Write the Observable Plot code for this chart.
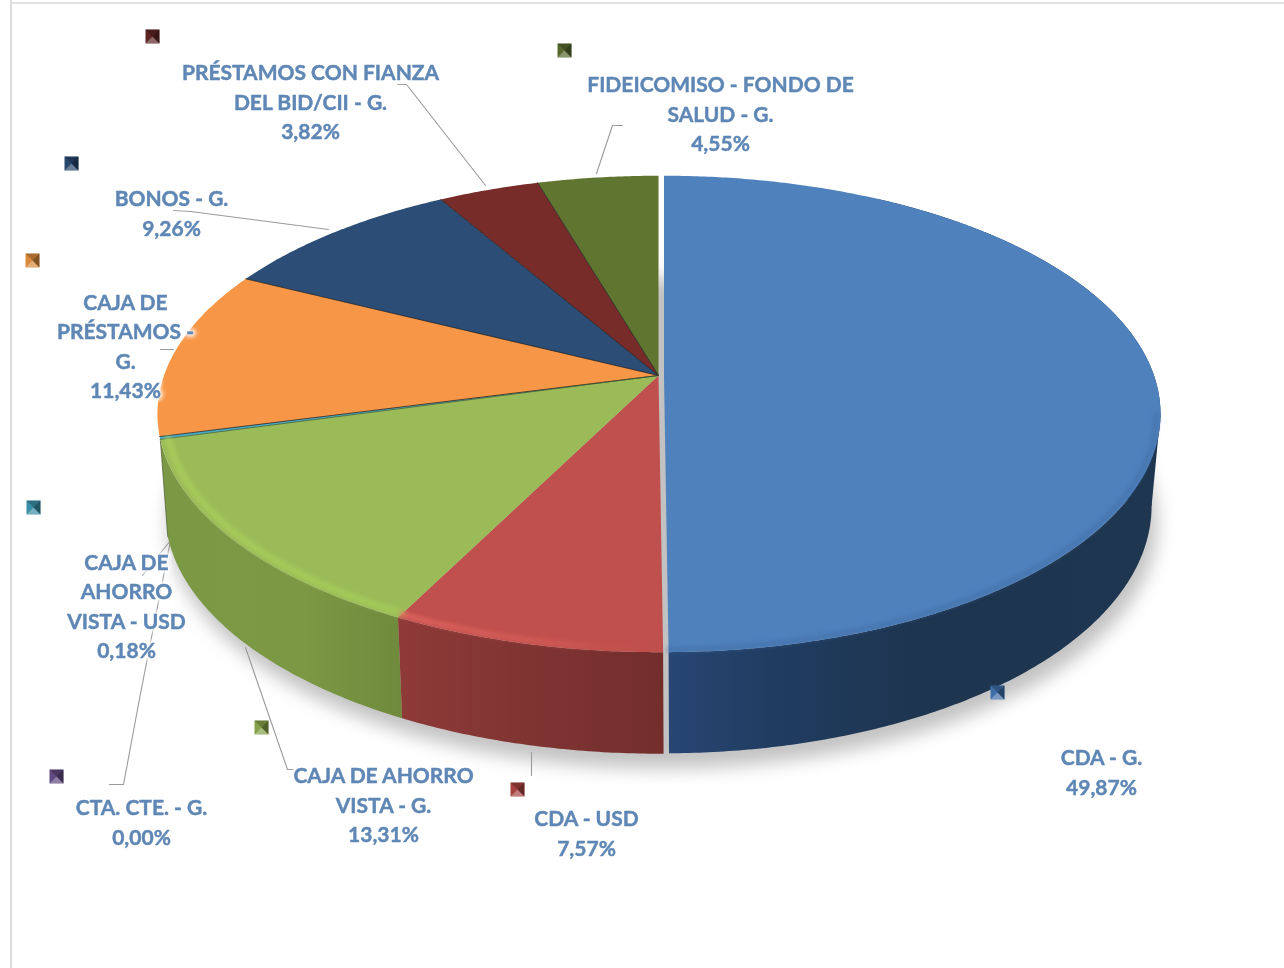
<!DOCTYPE html>
<html>
<head>
<meta charset="utf-8">
<style>html,body{margin:0;padding:0;background:#fff}svg{display:block}</style>
<script src="https://cdn.jsdelivr.net/npm/d3@7"></script>
<script src="https://cdn.jsdelivr.net/npm/@observablehq/plot@0.6"></script>
</head>
<body>
<div id="chart"></div>
<script>
// ---- data ----
const categories = [
  "CDA - G.", "CDA - USD", "CAJA DE AHORRO\nVISTA - G.", "CTA. CTE. - G.",
  "CAJA DE\nAHORRO\nVISTA - USD", "CAJA DE\nPRÉSTAMOS -\nG.", "BONOS - G.",
  "PRÉSTAMOS CON FIANZA\nDEL BID/CII - G.", "FIDEICOMISO - FONDO DE\nSALUD - G."
];
const shares = [49.87, 7.57, 13.31, 0.00, 0.18, 11.43, 9.26, 3.82, 4.55];

// ---- styling ----
const faceColors = ["#4f81bd","#c0504d","#9bbb59","#8064a2","#4bacc6","#f79646","#2c4d75","#772c2a","#5f7530"];
const keyColors  = ["#3f6ea8","#a5413f","#84a048","#604a80","#3a8ea6","#d98a3a","#27466c","#5e2424","#56682f"];
const textColor = "#5f87b5";

// annotation placement, in picture pixels (the picture's own hand-placed labels)
const labelSpots = [[1101,770],[586,831],[383,803],[141,820],[126,604],[125,344],[171,211],[310,100],[720,112]];
const keySpots   = [[997,692],[517,789],[261,727],[56,776],[33,507],[32,260],[71,163],[152,36],[564,50]];
const leaders = [
  [[531,752],[531,775]],
  [[245,647],[287,769],[293,769]],
  [[170,540],[140,693],[123,784],[109,784]],
  [[170,540],[142,575]],
  [[160,349],[173,349]],
  [[173,210],[190,211],[328,229]],
  [[397,84],[406,84],[485,185]],
  [[622,125],[612,125],[596,173]]
];

// ---- tilted-disc projection (perspective of the 3D pie) ----
const pers = 0.1614, radY = 232, hubY = 375;
const rest   = {cx: 658,   A: 494.5, cxb: 658.5, xf: 0.986, yf: 1.02,  yb: 471};
const lifted = {cx: 663.5, A: 490,   cxb: 664,   xf: 0.981, yf: 1.038, yb: 465.6};
const shade  = {cx: 662,   A: 492,   cxb: 662,   xf: 0.992, yf: 1.03,  yb: 476};

const total = d3.sum(shares);
const cum = d3.cumsum(shares);
const turn = i => (i < 0 ? 0 : cum[i] / total * 360);
const rad = d => d * Math.PI / 180;
function topPt(t, g, k = 1) {
  const u = Math.sin(rad(t)) * k, v = -Math.cos(rad(t)) * k, s = 1 / (1 - pers * v);
  return {x: g.cx + g.A * u * s, y: hubY + radY * v * s};
}
function botPt(t, g) {
  const u = Math.sin(rad(t)), v = -Math.cos(rad(t)), s = 1 / (1 - pers * v);
  return {x: g.cxb + g.xf * g.A * u * s, y: g.yb + g.yf * radY * v * s};
}
const sweep = (a, b) => { const n = Math.max(2, Math.ceil((b - a) / 0.5)); return d3.range(n + 1).map(i => a + (b - a) * i / n); };
const groupOf = i => (i === 0 ? lifted : rest);
const hubPt = g => ({x: g.cx, y: hubY});
const face = i => { const g = groupOf(i); return [hubPt(g), ...sweep(turn(i - 1), turn(i)).map(t => topPt(t, g))]; };
const wall = (a, b, g) => [...sweep(a, b).map(t => topPt(t, g)), ...sweep(a, b).reverse().map(t => botPt(t, g))];
const widest = Math.acos(-pers) * 180 / Math.PI; // where the disc's outline is at its widest

const poly = (pts, o) => Plot.line(pts, {x: "x", y: "y", stroke: "none", ...o});
const rimArc = (a, b, g, o, k = 1) => Plot.line(sweep(a, b).map(t => topPt(t, g, k)), {x: "x", y: "y", fill: "none", ...o});

const defs = () => {
  const d = d3.create("svg:defs");
  const grad = (id, stops) =>
    `<linearGradient id="${id}" x1="0" x2="1" y1="0" y2="0">` +
    stops.map(([o, c, a = 1]) => `<stop offset="${o}" stop-color="${c}" stop-opacity="${a}"/>`).join("") + `</linearGradient>`;
  d.html(
    grad("wallBlue", [[0, "#274673"], [0.22, "#203c60"], [0.5, "#1e3550"], [1, "#1f3650"]]) +
    grad("wallRed", [[0, "#8e3a38"], [0.5, "#7f3432"], [1, "#732e2c"]]) +
    grad("wallGreen", [[0, "#7b9945"], [0.6, "#7c9845"], [1, "#6f8a3c"]]) +
    grad("glowRed", [[0, "#ea6a66"], [0.6, "#d55c58"], [1, "#c0504d", 0]]) +
    grad("glowGreen", [[0, "#aed25c"], [0.6, "#aad35a"], [1, "#a5cf58"]])
  );
  return d.node();
};

// key squares drawn as little bevelled pyramids
const tri = (a, b) => ({draw(c, size) {
  const r = Math.sqrt(size / Math.PI);
  c.moveTo(a[0] * r, a[1] * r); c.lineTo(b[0] * r, b[1] * r); c.lineTo(0, 0); c.closePath();
}});
const box = {draw(c, size) { const r = Math.sqrt(size / Math.PI); c.rect(-r, -r, 2 * r, 2 * r); }};
const keys = keySpots.map(([x, y], i) => ({x, y, color: keyColors[i]}));
const keyR = 7;

const labels = categories.map((c, i) => ({
  text: `${c}\n${shares[i].toFixed(2).replace(".", ",")}%`, x: labelSpots[i][0], y: labelSpots[i][1]
}));
const textOpts = {x: "x", y: "y", text: "text", textAnchor: "middle", lineAnchor: "middle",
  fontFamily: "Lato, Carlito, sans-serif", fontWeight: 700, fontSize: 21, lineHeight: 1.405};

const chart = Plot.plot({
  width: 1284, height: 968, margin: 0,
  x: {domain: [0, 1284], range: [0, 1284], axis: null},
  y: {domain: [0, 968], range: [0, 968], axis: null},
  color: {type: "identity"},
  marks: [
    defs,
    Plot.ruleX([10.5], {stroke: "#dcdcdc", strokeWidth: 2}),
    Plot.ruleY([2.5], {x1: 10, x2: 1284, stroke: "#e2e2e2", strokeWidth: 2}),

    // soft shadow under the disc
    poly(sweep(0, 360).map(t => botPt(t, shade)).map(p => ({x: p.x, y: p.y + 7})),
      {fill: "#000", fillOpacity: 0.24, imageFilter: "blur(9px)"}),

    // leader lines behind the disc
    ...leaders.map(l => Plot.line(l, {x: d => d[0], y: d => d[1], stroke: "#9a9a9a", strokeWidth: 1.1})),

    // walls
    poly(wall(30, turn(0), lifted), {fill: "url(#wallBlue)"}),
    poly([topPt(widest, lifted), botPt(widest, lifted), hubPt(lifted)], {fill: "#1f3650"}),
    poly(wall(turn(1), turn(2), rest), {fill: "url(#wallGreen)"}),
    poly(wall(turn(0), turn(1), rest), {fill: "url(#wallRed)"}),
    Plot.line([topPt(turn(2), rest), botPt(turn(2), rest)], {x: "x", y: "y", stroke: "#3c4a20", strokeWidth: 1, strokeOpacity: 0.6}),

    // top faces
    ...shares.map((_, i) => i).filter(i => i !== 3).map(i => poly(face(i), {fill: faceColors[i]})),

    // thin dark seams between the back slices
    ...[4, 5, 6, 7].map(i => Plot.line([hubPt(rest), topPt(turn(i), rest)],
      {x: "x", y: "y", stroke: "#1c1c1c", strokeWidth: 1, strokeOpacity: 0.75})),
    Plot.line([hubPt(rest), topPt(turn(3), rest)], {x: "x", y: "y", stroke: "#3b5a2a", strokeWidth: 0.9, strokeOpacity: 0.8}),

    // bevel along the front rim
    rimArc(turn(1), turn(2), rest, {stroke: "url(#glowGreen)", strokeWidth: 6, strokeOpacity: 0.75, imageFilter: "blur(2.4px)"}, 0.985),
    rimArc(turn(0), turn(1), rest, {stroke: "url(#glowRed)", strokeWidth: 5, strokeOpacity: 0.75, imageFilter: "blur(2.2px)"}, 0.988),
    rimArc(widest, turn(0), lifted, {stroke: "#3f6ba2", strokeWidth: 4, strokeOpacity: 0.6, imageFilter: "blur(2px)"}, 0.992),

    // key squares
    Plot.dot(keys, {x: "x", y: "y", r: keyR, symbol: box, fill: "color"}),
    Plot.dot(keys, {x: "x", y: "y", r: keyR, symbol: tri([-1, 1], [1, 1]), fill: "#fff", fillOpacity: 0.3}),
    Plot.dot(keys, {x: "x", y: "y", r: keyR, symbol: tri([1, -1], [1, 1]), fill: "#000", fillOpacity: 0.4}),
    Plot.dot(keys, {x: "x", y: "y", r: keyR, symbol: tri([-1, -1], [1, -1]), fill: "#000", fillOpacity: 0.22}),

    // labels with their soft white halo
    Plot.text(labels, {...textOpts, fill: "#fff", stroke: "#fff", strokeWidth: 5, imageFilter: "blur(2px)"}),
    Plot.text(labels, {...textOpts, fill: textColor, stroke: textColor, strokeWidth: 0.45, imageFilter: "blur(0.35px)"})
  ]
});
document.getElementById("chart").append(chart);
</script>
</body>
</html>
